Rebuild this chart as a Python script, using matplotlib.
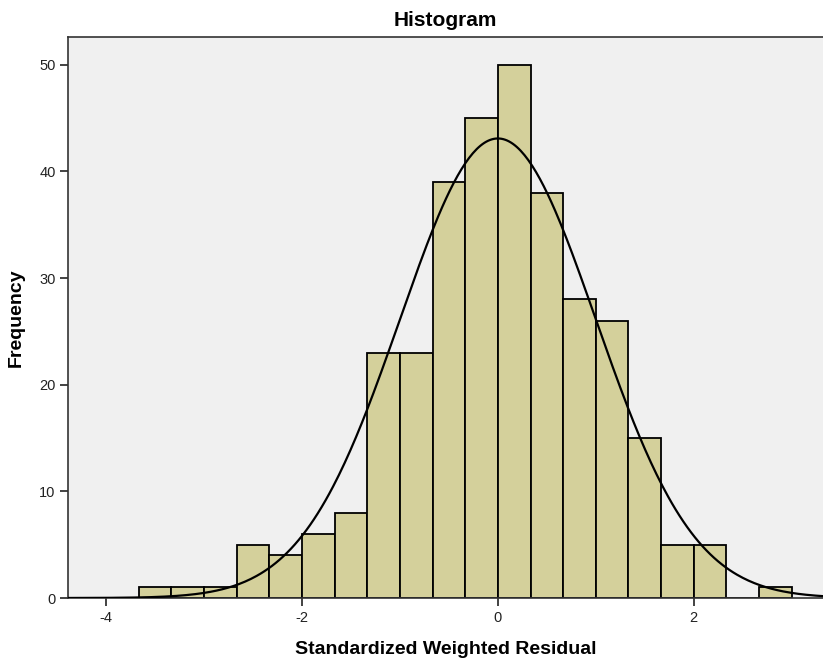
import matplotlib; matplotlib.use("Agg")
import matplotlib.pyplot as plt
import numpy as np

plt.rcParams["font.family"] = ["Liberation Sans", "DejaVu Sans"]
plt.rcParams["axes.unicode_minus"] = False

# histogram bins (width 1/3) and counts
bin_edges = np.arange(-11, 10) / 3.0
counts = [1, 1, 1, 5, 4, 6, 8, 23, 23, 39, 45, 50, 38, 28, 26, 15, 5, 5, 0, 1]
x_ticks = [-4, -2, 0, 2]
y_ticks = [0, 10, 20, 30, 40, 50]
# normal curve overlay
mu = 0.0
sigma = 1.0

BAR = "#d4d09b"; BG = "#f0f0f0"; INK = "#000000"

fig = plt.figure(figsize=(8.23, 6.65), dpi=100)
ax = fig.add_axes([68/823, 67/665, 1 - 68/823, (598-37)/665])
ax.set_facecolor(BG)

widths = np.diff(bin_edges)
ax.bar(bin_edges[:-1], counts, width=widths, align="edge",
       color=BAR, edgecolor=INK, linewidth=1.3, zorder=2)

n = sum(counts)
xs = np.linspace(-4.4, 3.4, 400)
ys = n * widths[0] * np.exp(-0.5*((xs-mu)/sigma)**2) / (sigma*np.sqrt(2*np.pi))
ax.plot(xs, ys, color=INK, lw=1.6, zorder=3)

ax.set_xlim(-4.39, 3.32)
ax.set_ylim(0, 52.6)
ax.set_xticks(x_ticks)
ax.set_yticks(y_ticks)
ax.tick_params(direction="out", length=6, width=1.2, colors="#222222", labelsize=10.5, pad=3)
for s in ["left", "bottom", "top"]:
    ax.spines[s].set_linewidth(1.2)
    ax.spines[s].set_color("#333333")
ax.spines["right"].set_visible(False)

ax.set_title("Histogram", fontsize=15, fontweight="bold", pad=8)
ax.set_xlabel("Standardized Weighted Residual", fontsize=14, fontweight="bold", labelpad=12)
ax.set_ylabel("Frequency", fontsize=14, fontweight="bold", labelpad=10)

fig.savefig("out.png", dpi=100, facecolor="white")
